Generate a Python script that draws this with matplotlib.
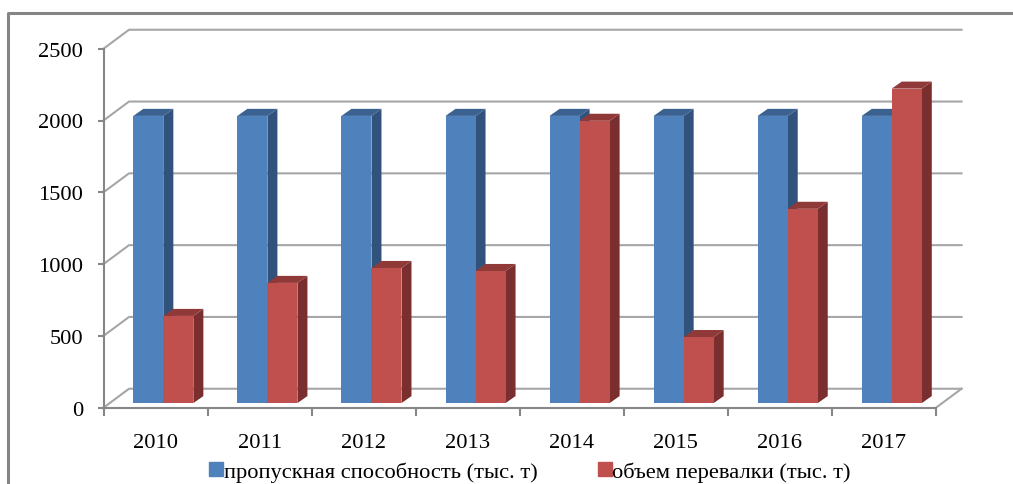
import matplotlib
matplotlib.use("Agg")
import matplotlib.pyplot as plt
from matplotlib.patches import Patch, Polygon
from matplotlib.lines import Line2D

plt.rcParams['font.family'] = ['Liberation Serif', 'DejaVu Serif']

years = ['2010', '2011', '2012', '2013', '2014', '2015', '2016', '2017']
capacity = [2000, 2000, 2000, 2000, 2000, 2000, 2000, 2000]
volume = [607, 837, 941, 920, 1966, 460, 1353, 2190]
y_ticks = [0, 500, 1000, 1500, 2000, 2500]
capacity_name = 'пропускная способность (тыс. т)'
volume_name = 'объем перевалки (тыс. т)'

BLUE, BLUE_SIDE, BLUE_TOP = '#4f81bd', '#31527a', '#3a6190'
RED, RED_SIDE, RED_TOP = '#c0504d', '#7a2f2e', '#8f3a38'
GRID = '#a6a6a6'
AXIS = '#868686'

W, H = 1013, 485
fig = plt.figure(figsize=(W / 100, H / 100), dpi=100)

# frame round the chart, only top and left are visible in the picture
fig.add_artist(Line2D([7.5 / W, 7.5 / W, 1], [0, 1 - 13.5 / H, 1 - 13.5 / H],
                      color='#858585', lw=2.2, transform=fig.transFigure))

ax = fig.add_axes([103.5 / W, 1 - 408.7 / H, (936 - 103.5) / W, (408.7 - 49.7) / H])
ax.set_xlim(-0.5, len(years) - 0.5)
ax.set_ylim(0, 2500)

# depth of the fake 3d box, in data units
wall_dx = 25.5 / 104
wall_dy = 132
bar_x = 7.8 / 104
bar_y = 32
bar_dx = 10 / 104
bar_dy = 49
bar_w = 30 / 104

x_left, x_right = ax.get_xlim()
for v in y_ticks:
    ax.plot([x_left, x_left + wall_dx, x_right + wall_dx],
            [v, v + wall_dy, v + wall_dy],
            color=GRID, lw=1.5, clip_on=False, zorder=1)
ax.plot([x_right, x_right + wall_dx], [0, wall_dy], color=GRID, lw=1.5, clip_on=False, zorder=1)


def bar3d(x0, value, front, side, top, z):
    x1 = x0 + bar_w
    base = bar_y
    h = base + value
    ax.add_patch(Polygon([(x1, base), (x1 + bar_dx, base + bar_dy), (x1 + bar_dx, h + bar_dy), (x1, h)],
                         facecolor=side, edgecolor='none', clip_on=False, zorder=z))
    ax.add_patch(Polygon([(x0, h), (x0 + bar_dx, h + bar_dy), (x1 + bar_dx, h + bar_dy), (x1, h)],
                         facecolor=top, edgecolor='none', clip_on=False, zorder=z))
    ax.add_patch(Polygon([(x0, base), (x1, base), (x1, h), (x0, h)],
                         facecolor=front, edgecolor='none', clip_on=False, zorder=z + 0.1))


for i in range(len(years)):
    mid = i + bar_x
    bar3d(mid - bar_w, capacity[i], BLUE, BLUE_SIDE, BLUE_TOP, 2 + i)
    bar3d(mid, volume[i], RED, RED_SIDE, RED_TOP, 2.5 + i)

for s in ['top', 'right']:
    ax.spines[s].set_visible(False)
for s in ['left', 'bottom']:
    ax.spines[s].set_color(AXIS)
    ax.spines[s].set_linewidth(1.5)
    ax.spines[s].set_zorder(20)

ax.set_yticks(y_ticks)
ax.set_xticks([i - 0.5 for i in range(len(years) + 1)], minor=False)
ax.set_xticklabels([''] * (len(years) + 1))
ax.set_xticks(range(len(years)), labels=years, minor=True)
ax.tick_params(axis='x', which='major', length=6, width=1.5, color=AXIS)
ax.tick_params(axis='x', which='minor', length=0, pad=18.4, labelsize=16.2)
ax.tick_params(axis='y', length=4.5, width=1.5, color=AXIS, pad=10, labelsize=16.2)

fig.legend(handles=[Patch(color=BLUE, label=capacity_name), Patch(color=RED, label=volume_name)],
           loc='center', bbox_to_anchor=(530 / W, 1 - 472.5 / H), ncol=2, frameon=False,
           fontsize=16.2, handlelength=0.62, handleheight=0.62, handletextpad=0.02,
           columnspacing=2.7, borderpad=0, borderaxespad=0)

fig.savefig('out.png', dpi=100)
